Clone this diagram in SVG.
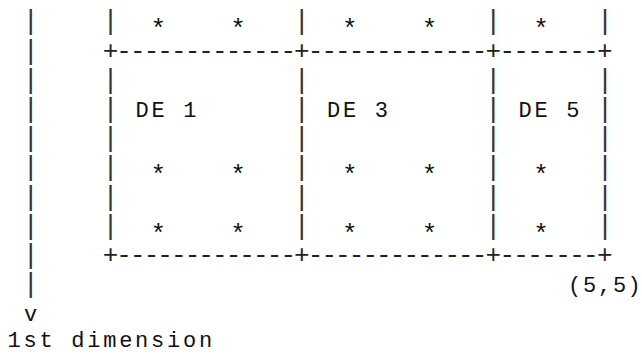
<svg xmlns="http://www.w3.org/2000/svg" width="642" height="354" viewBox="0 0 642 354" xml:space="preserve">
<style>
text{font-family:"Liberation Mono","Courier New",monospace;font-size:22px;fill:#111;white-space:pre}
.c{text-anchor:middle}
.bar{font-family:"Liberation Sans",Arial,sans-serif;font-size:27px;text-anchor:middle;fill:#333}
.star{font-size:26px;text-anchor:middle}
.lbl{letter-spacing:2.75px}
.d1{font-size:26px;letter-spacing:-1.93px;fill:#222}
.d2{font-size:26px;letter-spacing:-1.65px;fill:#222}
</style>
<rect width="642" height="354" fill="#fff"/>
<g id="connectors">
  <g id="axis-1st-dimension">
    <text class="bar"><tspan x="30.7" y="29.4">|</tspan><tspan x="30.7" y="58.6">|</tspan><tspan x="30.7" y="87.8">|</tspan><tspan x="30.7" y="117">|</tspan><tspan x="30.7" y="146.2">|</tspan><tspan x="30.7" y="175.4">|</tspan><tspan x="30.7" y="204.6">|</tspan><tspan x="30.7" y="233.8">|</tspan><tspan x="30.7" y="263">|</tspan><tspan x="30.7" y="292.2">|</tspan></text>
    <text class="c" x="30.7" y="321.4">v</text>
  </g>
  <g id="grid-lines">
    <text class="bar"><tspan x="110.45" y="29.4">|</tspan><tspan x="110.45" y="87.8">|</tspan><tspan x="110.45" y="117">|</tspan><tspan x="110.45" y="146.2">|</tspan><tspan x="110.45" y="175.4">|</tspan><tspan x="110.45" y="204.6">|</tspan><tspan x="110.45" y="233.8">|</tspan></text>
    <text class="bar"><tspan x="301.85" y="29.4">|</tspan><tspan x="301.85" y="87.8">|</tspan><tspan x="301.85" y="117">|</tspan><tspan x="301.85" y="146.2">|</tspan><tspan x="301.85" y="175.4">|</tspan><tspan x="301.85" y="204.6">|</tspan><tspan x="301.85" y="233.8">|</tspan></text>
    <text class="bar"><tspan x="493.25" y="29.4">|</tspan><tspan x="493.25" y="87.8">|</tspan><tspan x="493.25" y="117">|</tspan><tspan x="493.25" y="146.2">|</tspan><tspan x="493.25" y="175.4">|</tspan><tspan x="493.25" y="204.6">|</tspan><tspan x="493.25" y="233.8">|</tspan></text>
    <text class="bar"><tspan x="604.9" y="29.4">|</tspan><tspan x="604.9" y="87.8">|</tspan><tspan x="604.9" y="117">|</tspan><tspan x="604.9" y="146.2">|</tspan><tspan x="604.9" y="175.4">|</tspan><tspan x="604.9" y="204.6">|</tspan><tspan x="604.9" y="233.8">|</tspan></text>
    <text class="d1" x="102.65" y="58.6">+-------------</text>
    <text class="d1" x="294.05" y="58.6">+-------------</text>
    <text class="d2" x="485.45" y="58.6">+-------+</text>
    <text class="d1" x="102.65" y="263">+-------------</text>
    <text class="d1" x="294.05" y="263">+-------------</text>
    <text class="d2" x="485.45" y="263">+-------+</text>
  </g>
</g>
<g id="cells-above">
  <text class="star" x="158.3" y="37">*</text>
  <text class="star" x="238.05" y="37">*</text>
  <text class="star" x="349.7" y="37">*</text>
  <text class="star" x="429.45" y="37">*</text>
  <text class="star" x="541.1" y="37">*</text>
</g>
<g id="DE-1">
  <text class="lbl" x="135.5" y="117">DE 1</text>
  <text class="star" x="158.3" y="182.5">*</text>
  <text class="star" x="238.05" y="182.5">*</text>
  <text class="star" x="158.3" y="241.5">*</text>
  <text class="star" x="238.05" y="241.5">*</text>
</g>
<g id="DE-3">
  <text class="lbl" x="327" y="117">DE 3</text>
  <text class="star" x="349.7" y="182.5">*</text>
  <text class="star" x="429.45" y="182.5">*</text>
  <text class="star" x="349.7" y="241.5">*</text>
  <text class="star" x="429.45" y="241.5">*</text>
</g>
<g id="DE-5">
  <text class="lbl" x="518.5" y="117">DE 5</text>
  <text class="star" x="541.1" y="182.5">*</text>
  <text class="star" x="541.1" y="241.5">*</text>
</g>
<g id="corner-label">
  <text x="568 583 598 613 627.5" y="292.2">(5,5)</text>
</g>
<g id="axis-label">
  <text class="lbl" x="7.5" y="347">1st dimension</text>
</g>
</svg>
